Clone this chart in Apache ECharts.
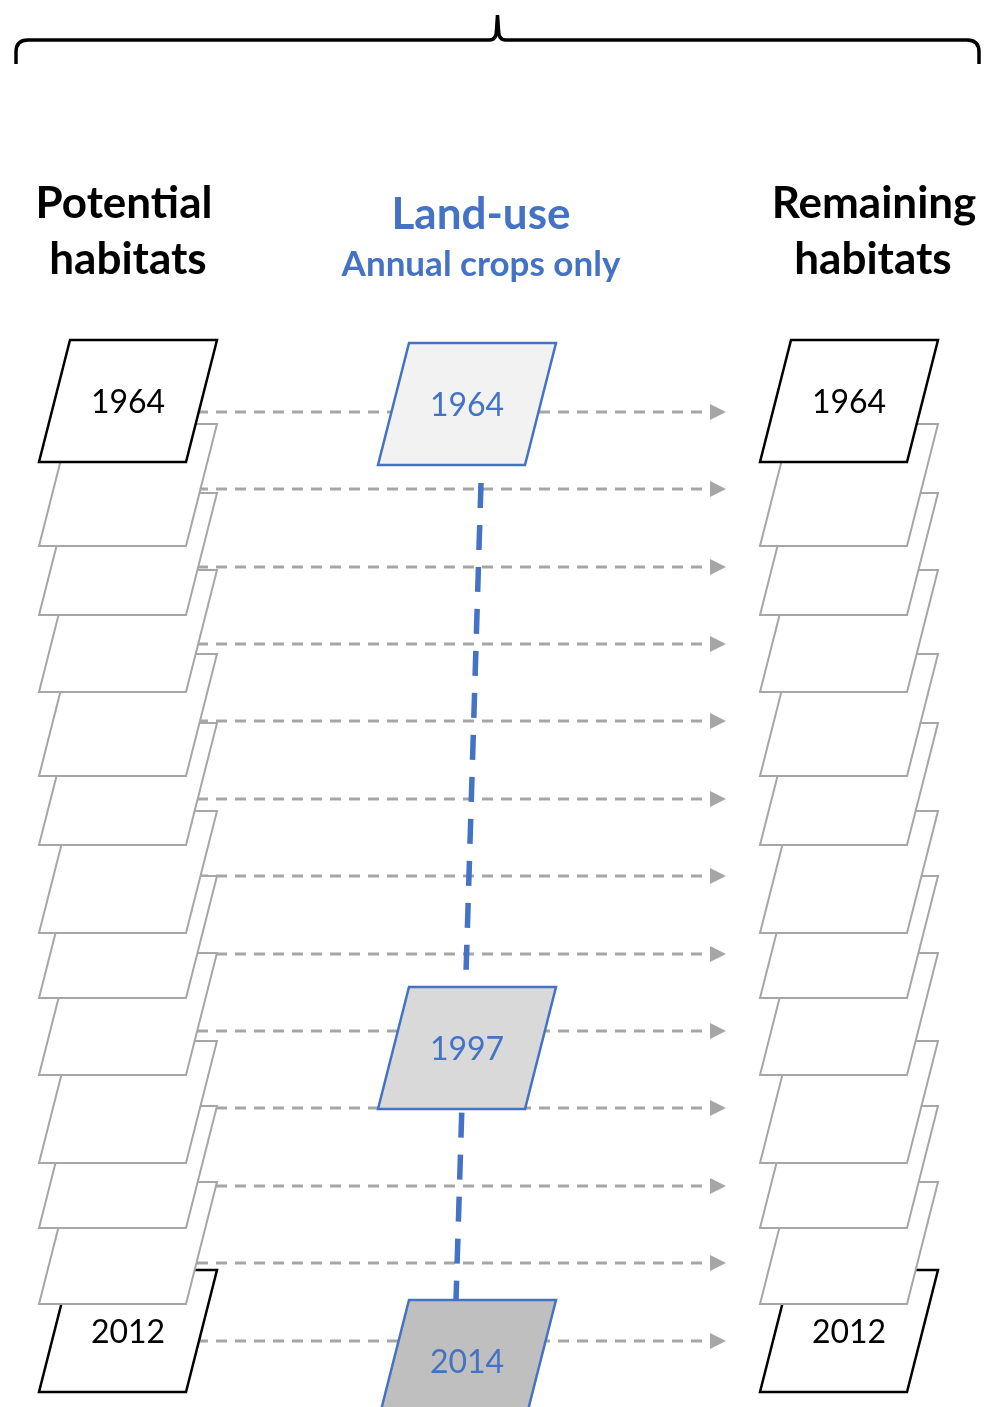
<!DOCTYPE html>
<html>
<head>
<meta charset="utf-8">
<script src="https://cdn.jsdelivr.net/npm/echarts@6/dist/echarts.min.js"></script>
<style>
  html, body { margin: 0; padding: 0; background: #fff; }
  #main { width: 998px; height: 1407px; }
</style>
</head>
<body>
<div id="main"></div>
<script>
// layers of the habitat stacks (top edge, in diagram units), first = 1964, last = 2012
const stackTops = [340, 424, 493, 570, 654, 723, 811, 876, 953, 1041, 1106, 1182, 1270];
const stackLabels = ['1964', '', '', '', '', '', '', '', '', '', '', '', '2012'];
// left edge (top corner) of the two stacks: potential / remaining
const stackColumns = [70, 791];
// rows of the dashed arrows
const arrowRows = [412, 489, 567, 644, 721, 799, 876, 954, 1031, 1108, 1186, 1263, 1341];
// land-use maps (annual crops only)
const landUseYears = ['1964', '1997', '2014'];
const landUseTops = [343, 987, 1300];
const landUseColumn = 409;
// blue link between land-use maps: [x1, y1, x2, y2]
const landUseLink = [481, 483, 456, 1300];

const shapeW = 147, shapeH = 122, shapeSkew = 31;
const landUseFills = ['#f2f2f2', '#d9d9d9', '#bfbfbf'];
const BLUE = '#4472c4', GRAY = '#a6a6a6';
const FONT = 'Lato, "Open Sans", sans-serif';

let myChart = echarts.init(document.getElementById('main'));

// parallelogram points from top-left corner
function para(api, x, top) {
  return [
    api.coord([x, top]),
    api.coord([x + shapeW, top]),
    api.coord([x + shapeW - shapeSkew, top + shapeH]),
    api.coord([x - shapeSkew, top + shapeH])
  ];
}

let stackData = [];
stackColumns.forEach(function (col) {
  stackTops.forEach(function (t, i) {
    stackData.push([col, t, i]);
  });
});

function header(text, x, y, size, color) {
  return { type: 'text', x: x, y: y,
    style: { text: text, font: 'bold ' + size + 'px ' + FONT, fill: color,
             textAlign: 'center', textVerticalAlign: 'bottom' } };
}

let option = {
  animation: false,
  grid: { left: 0, right: 0, top: 0, bottom: 0 },
  xAxis: { type: 'value', min: 0, max: 998, show: false },
  yAxis: { type: 'value', min: 0, max: 1407, inverse: true, show: false },
  graphic: [
    header('Potential', 124, 226, 44, '#000'),
    header('habitats', 128, 282, 44, '#000'),
    header('Land-use', 481, 237, 44, BLUE),
    header('Annual crops only', 481, 282, 35, BLUE),
    header('Remaining', 874, 226, 44, '#000'),
    header('habitats', 873, 282, 44, '#000')
  ],
  series: [
    {
      // curly brace on top
      type: 'custom',
      z: 1,
      data: [[16, 979, 40]],
      renderItem: function (params, api) {
        let x1 = api.value(0), x2 = api.value(1), y = api.value(2);
        let xm = (x1 + x2) / 2;
        let p = function (x, yy) { return api.coord([x, yy]); };
        let a = p(x1, 64), b = p(x1, 52), c = p(x1, 40), d = p(x1 + 12, y);
        let e = p(xm - 8, y), f = p(xm - 1, y), g = p(xm - 1, 30), h = p(xm, 15);
        let i2 = p(xm + 1, 30), j = p(xm + 1, y), k = p(xm + 8, y);
        let l = p(x2 - 12, y), m = p(x2, 40), n = p(x2, 52), o = p(x2, 64);
        let path = 'M' + a + 'L' + b + 'Q' + c + ' ' + d + 'L' + e + 'Q' + f + ' ' + g +
          'L' + h + 'L' + i2 + 'Q' + j + ' ' + k + 'L' + l + 'Q' + m + ' ' + n + 'L' + o;
        return {
          type: 'path',
          shape: { pathData: path },
          style: { fill: 'none', stroke: '#000', lineWidth: 3.5 }
        };
      }
    },
    {
      // dashed arrows from potential to remaining habitats
      type: 'custom',
      z: 2,
      data: arrowRows.map(function (y) { return [y]; }),
      renderItem: function (params, api) {
        let y = api.value(0);
        let s = api.coord([140, y]), e = api.coord([711, y]);
        let t1 = api.coord([710, y - 8]), t2 = api.coord([726, y]), t3 = api.coord([710, y + 8]);
        return {
          type: 'group',
          children: [
            { type: 'line', shape: { x1: s[0], y1: s[1], x2: e[0], y2: e[1] },
              style: { stroke: GRAY, lineWidth: 3, lineDash: [11, 8] } },
            { type: 'polygon', shape: { points: [t1, t2, t3] }, style: { fill: GRAY } }
          ]
        };
      }
    },
    {
      // blue dashed link between land-use maps
      type: 'custom',
      z: 3,
      data: [landUseLink],
      renderItem: function (params, api) {
        let a = api.coord([api.value(0), api.value(1)]);
        let b = api.coord([api.value(2), api.value(3)]);
        return {
          type: 'line',
          shape: { x1: a[0], y1: a[1], x2: b[0], y2: b[1] },
          style: { stroke: BLUE, lineWidth: 5.5, lineDash: [25, 17] }
        };
      }
    },
    {
      // habitat stacks
      type: 'custom',
      z: 4,
      data: stackData,
      renderItem: function (params, api) {
        let x = api.value(0), top = api.value(1), idx = api.value(2);
        let last = stackTops.length - 1;
        let dark = idx === 0 || idx === last;
        let pts = para(api, x, top);
        let c = api.coord([x + (shapeW - shapeSkew) / 2, top + shapeH / 2 + 2]);
        return {
          type: 'group',
          z2: 100 - idx,
          children: [
            { type: 'polygon', z2: 100 - idx, shape: { points: pts },
              style: { fill: '#fff', stroke: dark ? '#000' : GRAY, lineWidth: dark ? 2.5 : 2 } },
            { type: 'text', z2: 100 - idx, x: c[0], y: c[1],
              style: { text: stackLabels[idx], font: '32px ' + FONT, fill: '#000',
                       textAlign: 'center', textVerticalAlign: 'middle' } }
          ]
        };
      }
    },
    {
      // land-use maps
      type: 'custom',
      z: 5,
      data: landUseTops.map(function (t, i) { return [landUseColumn, t, i]; }),
      renderItem: function (params, api) {
        let x = api.value(0), top = api.value(1), idx = api.value(2);
        let pts = para(api, x, top);
        let c = api.coord([x + (shapeW - shapeSkew) / 2, top + shapeH / 2 + 2]);
        return {
          type: 'group',
          children: [
            { type: 'polygon', shape: { points: pts },
              style: { fill: landUseFills[idx], stroke: BLUE, lineWidth: 2.5 } },
            { type: 'text', x: c[0], y: c[1],
              style: { text: landUseYears[idx], font: '32px ' + FONT, fill: BLUE,
                       textAlign: 'center', textVerticalAlign: 'middle' } }
          ]
        };
      }
    }
  ]
};

myChart.setOption(option);
</script>
</body>
</html>
